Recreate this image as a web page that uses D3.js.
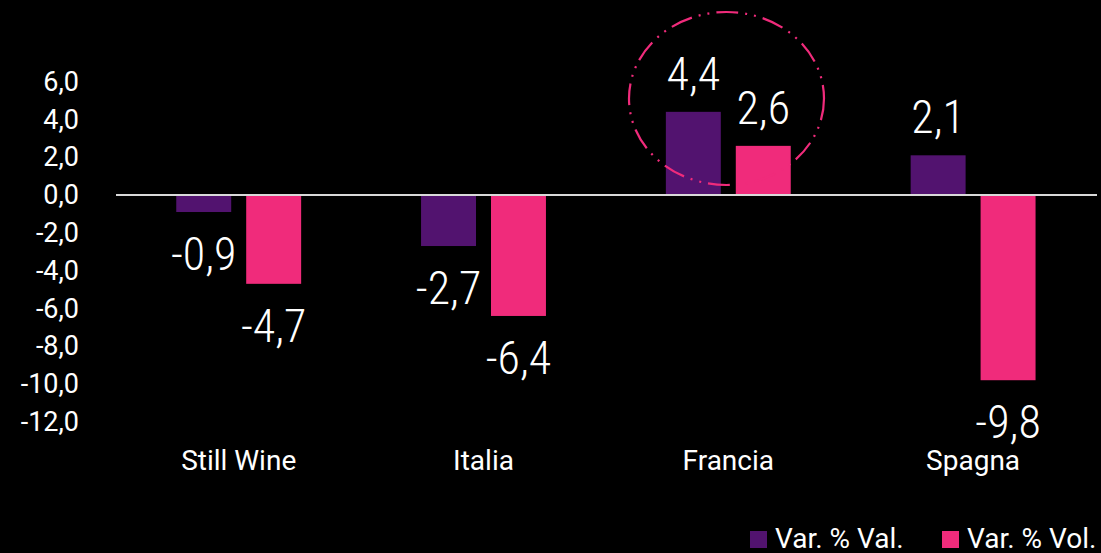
<!DOCTYPE html>
<html>
<head>
<meta charset="utf-8">
<script src="https://cdn.jsdelivr.net/npm/d3@7"></script>
<style>
html,body{margin:0;padding:0;background:#000;}
svg{display:block;}
text{font-family:"Roboto",sans-serif;fill:#fff;}
.val{font-family:"Roboto Condensed","Roboto",sans-serif;font-weight:300;}
</style>
</head>
<body>
<svg id="chart" width="1101" height="553"></svg>
<script>
const categories = ["Still Wine", "Italia", "Francia", "Spagna"];
const seriesNames = ["Var. % Val.", "Var. % Vol."];
const valValues = [-0.9, -2.7, 4.4, 2.1];
const volValues = [-4.7, -6.4, 2.6, -9.8];
const yTicks = [-12, -10, -8, -6, -4, -2, 0, 2, 4, 6];
const colors = ["#52136f", "#f02b7b"];

const W = 1101, H = 553;
const svg = d3.select("#chart");
svg.append("rect").attr("width", W).attr("height", H).attr("fill", "#000");

const loc = d3.formatLocale({decimal: ",", thousands: ".", grouping: [3], currency: ["", "€"], minus: "-"});
const fmt = loc.format(".1f");

const y = d3.scaleLinear().domain([-12, 6]).range([421.8, 81.6]);
const x0 = d3.scaleBand().domain(categories).range([116.3, 1095.5]).paddingInner(0).paddingOuter(0);
const x1 = d3.scaleBand().domain(seriesNames).range([0, x0.bandwidth()]).paddingInner(15/70).paddingOuter(60/70);
const color = d3.scaleOrdinal().domain(seriesNames).range(colors);

// Y axis (labels only)
const yAxis = d3.axisLeft(y).tickValues(yTicks).tickFormat(fmt).tickSize(0).tickPadding(0);
const ag = svg.append("g").attr("transform", "translate(79,0)").call(yAxis);
ag.select(".domain").remove();
ag.selectAll("text").attr("font-size", 27).attr("fill", "#fff")
  .style("font-family", '"Roboto",sans-serif');

// bars
const rows = categories.map((c, i) => ({cat: c, vals: [valValues[i], volValues[i]]}));
const gGroups = svg.append("g").selectAll("g").data(rows).join("g")
  .attr("transform", d => `translate(${x0(d.cat)},0)`);
gGroups.selectAll("rect").data(d => d.vals.map((v, j) => ({s: seriesNames[j], v})))
  .join("rect")
  .attr("x", d => x1(d.s))
  .attr("width", x1.bandwidth())
  .attr("y", d => y(Math.max(0, d.v)))
  .attr("height", d => Math.abs(y(d.v) - y(0)))
  .attr("fill", d => color(d.s));

// zero line
svg.append("line").attr("x1", 116).attr("x2", 1097).attr("y1", y(0)).attr("y2", y(0))
  .attr("stroke", "#d9d9d9").attr("stroke-width", 2);

// value labels
const lblG = svg.append("g");
rows.forEach(r => {
  r.vals.forEach((v, j) => {
    const cx = x0(r.cat) + x1(seriesNames[j]) + x1.bandwidth() / 2;
    const yy = v >= 0 ? y(v) - 22 : y(v) + 58;
    lblG.append("text").attr("class", "val").attr("x", cx).attr("y", yy)
      .attr("font-size", 46).attr("text-anchor", "middle").text(fmt(v));
  });
});

// category labels
svg.append("g").selectAll("text").data(categories).join("text")
  .attr("x", c => x0(c) + x0.bandwidth() / 2).attr("y", 469.5)
  .attr("font-size", 28).attr("text-anchor", "middle").text(c => c);

// highlight ellipse
svg.append("ellipse").attr("cx", 726.5).attr("cy", 98.5).attr("rx", 97.5).attr("ry", 86.5)
  .attr("fill", "none").attr("stroke", colors[1]).attr("stroke-width", 2.2)
  .attr("stroke-dasharray", "22 7 2 7 2 7");

// legend
const legX = [750, 942];
seriesNames.forEach((s, i) => {
  svg.append("rect").attr("x", legX[i]).attr("y", 531).attr("width", 17).attr("height", 17).attr("fill", colors[i]);
  svg.append("text").attr("x", legX[i] + 25).attr("y", 548).attr("font-size", 28).text(s);
});
</script>
</body>
</html>
